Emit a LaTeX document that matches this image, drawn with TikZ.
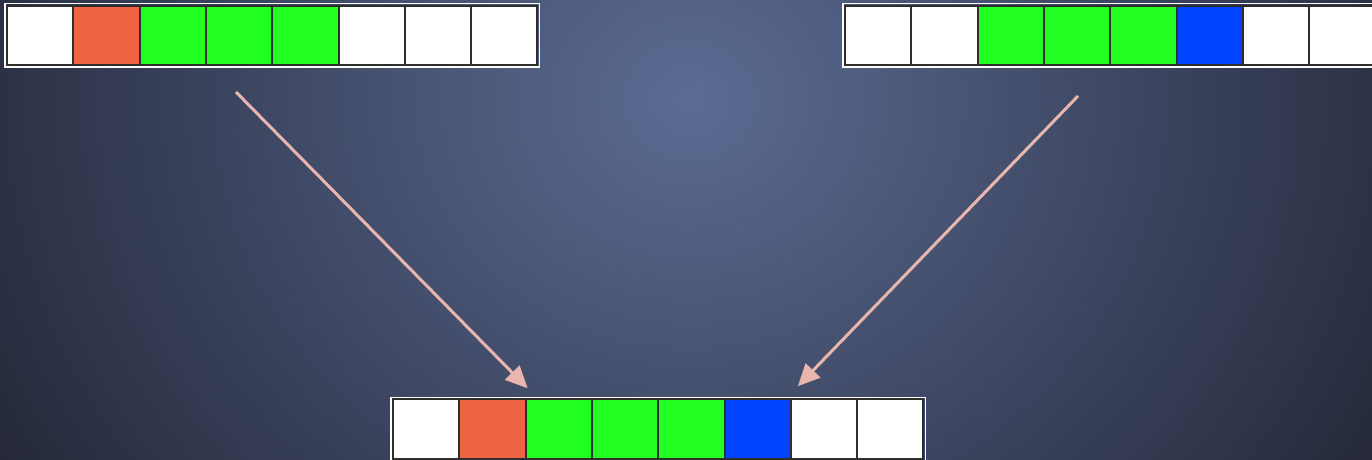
\documentclass[tikz,border=0pt]{standalone}
\usepackage{xcolor}
\usepackage{tikz}
\usetikzlibrary{arrows.meta, positioning, fit, backgrounds}
\definecolor{bgin}{HTML}{5B6B92}
\definecolor{bgmid}{HTML}{2C3246}
\definecolor{bgout}{HTML}{232637}
\definecolor{celledge}{HTML}{2E2E2E}
\definecolor{redcell}{HTML}{EE6442}
\definecolor{greencell}{HTML}{22FF22}
\definecolor{bluecell}{HTML}{0044FF}
\definecolor{mergepink}{HTML}{E8B6AE}
\pgfdeclareradialshading{bgglow}{\pgfpoint{0bp}{0bp}}{%
  color(0bp)=(bgin); color(21bp)=(bgmid); color(25bp)=(bgout);
  color(50bp)=(bgout)}

\tikzset{
  cell/.style={draw=celledge, line width=1pt, minimum width=33.15pt,
               minimum height=29.75pt, inner sep=0pt, outer sep=0pt},
  frame/.style={draw=white, line width=0.75pt, inner sep=1pt},
  mergearrow/.style={draw=mergepink, line width=1.5pt,
               -{Triangle[length=11pt, width=10pt]}}
}

\begin{document}
\begin{tikzpicture}[x=0.5pt, y=-0.5pt]
    \useasboundingbox (0,0) rectangle (1372,460);
    \begin{scope}
      \clip (0,0) rectangle (1372,460);
      \fill[bgout] (0,0) rectangle (1372,460);
      \shade[shading=bgglow] (690,100) ellipse (820 and 740);
    \end{scope}

    % first run
    \node[cell, fill=white] (a1) at (40.15,35.5) {};
    \foreach \c [count=\i from 2, remember=\i as \j (initially 1)]
        in {redcell, greencell, greencell, greencell, white, white, white}
      \node[cell, fill=\c, right=0pt of a\j] (a\i) {};
    \node[frame, fit=(a1)(a8)] (runA) {};

    % second run
    \node[cell, fill=white] (b1) at (878.15,35.5) {};
    \foreach \c [count=\i from 2, remember=\i as \j (initially 1)]
        in {white, greencell, greencell, greencell, bluecell, white, white}
      \node[cell, fill=\c, right=0pt of b\j] (b\i) {};
    \node[frame, fit=(b1)(b8)] (runB) {};

    % merged run
    \node[cell, fill=white] (m1) at (426.15,429) {};
    \foreach \c [count=\i from 2, remember=\i as \j (initially 1)]
        in {redcell, greencell, greencell, greencell, bluecell, white, white}
      \node[cell, fill=\c, right=0pt of m\j] (m\i) {};
    \node[frame, fit=(m1)(m8)] (merged) {};

    \coordinate (fromA) at (236,92);
    \coordinate (fromB) at (1078,96);
    \coordinate (intoA) at ([shift={(2,-11)}]m2.north east);
    \coordinate (intoB) at ([shift={(7,-13)}]m6.north east);
    \draw[mergearrow] (fromA) -- (intoA);
    \draw[mergearrow] (fromB) -- (intoB);
  \end{tikzpicture}
\end{document}
